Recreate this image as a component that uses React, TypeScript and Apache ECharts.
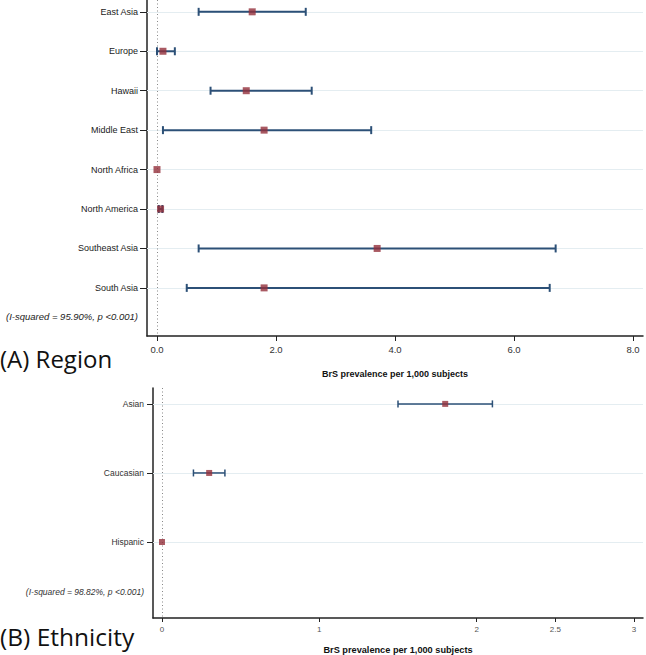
import React, { useEffect, useRef } from "react";
import * as echarts from "echarts";

const regions = ["East Asia", "Europe", "Hawaii", "Middle East", "North Africa", "North America", "Southeast Asia", "South Asia"];
const regionEst = [1.6, 0.1, 1.5, 1.8, 0.0, 0.06, 3.7, 1.8];
const regionLow = [0.7, 0.0, 0.9, 0.1, 0.0, 0.03, 0.7, 0.5];
const regionHigh = [2.5, 0.3, 2.6, 3.6, 0.0, 0.09, 6.7, 6.6];
const regionTicks = [0, 2, 4, 6, 8];

const ethnicities = ["Asian", "Caucasian", "Hispanic"];
const ethEst = [1.8, 0.3, 0.0];
const ethLow = [1.5, 0.2, 0.0];
const ethHigh = [2.1, 0.4, 0.0];
const ethTicks = [0, 1, 2, 2.5, 3];

const regionHet = "(I-squared = 95.90%, p <0.001)";
const ethHet = "(I-squared = 98.82%, p <0.001)";
const axisTitle = "BrS prevalence per 1,000 subjects";
const panelA = "(A) Region";
const panelB = "(B) Ethnicity";

const FONT = "'Liberation Sans', Arial, sans-serif";
const CI_COLOR = "#2c5077";
const PT_COLOR = "#93303b";
const AXIS_COLOR = "#222";

function ciSeries(xi: number, yi: number, low: number[], high: number[], lw: number, cap: number) {
  return {
    type: "custom",
    xAxisIndex: xi,
    yAxisIndex: yi,
    z: 3,
    silent: true,
    encode: { x: [1, 2], y: 0 },
    data: low.map((l, i) => [i, l, high[i]]),
    renderItem: (params: any, api: any) => {
      const row = api.value(0);
      const lo = api.value(1);
      const hi = api.value(2);
      if (hi - lo <= 0) return { type: "group", children: [] };
      const p1 = api.coord([lo, row]);
      const p2 = api.coord([hi, row]);
      const st = { stroke: CI_COLOR, lineWidth: lw };
      return {
        type: "group",
        children: [
          { type: "line", shape: { x1: p1[0], y1: p1[1], x2: p2[0], y2: p2[1] }, style: st },
          { type: "line", shape: { x1: p1[0], y1: p1[1] - cap, x2: p1[0], y2: p1[1] + cap }, style: st },
          { type: "line", shape: { x1: p2[0], y1: p2[1] - cap, x2: p2[0], y2: p2[1] + cap }, style: st },
        ],
      };
    },
  };
}

function pointSeries(xi: number, yi: number, est: number[], size: number, count: number) {
  return {
    type: "scatter",
    xAxisIndex: xi,
    yAxisIndex: yi,
    z: 4,
    silent: true,
    symbol: "rect",
    symbolSize: size,
    itemStyle: { color: PT_COLOR },
    data: est.map((v, i) => [v, i]),
    markLine: {
      silent: true,
      symbol: ["none", "none"],
      label: { show: false },
      z: 1,
      data: [
        ...Array.from({ length: count }, (_, i) => ({
          yAxis: i,
          lineStyle: { color: "#e4edf1", width: 1, type: "solid" },
        })),
        { xAxis: 0, lineStyle: { color: "#888", width: 1, type: [1, 2.5] } },
      ],
    },
  };
}

export default function App() {
  const ref = useRef<HTMLDivElement>(null);
  useEffect(() => {
    if (!ref.current) return;
    const chart = echarts.init(ref.current, undefined, { renderer: "svg" });
    const yAxisCommon = {
      type: "value",
      inverse: true,
      splitLine: { show: false },
      axisLine: { show: true, onZero: false, lineStyle: { color: AXIS_COLOR, width: 1.5 } },
    };
    chart.setOption({
      animation: false,
      backgroundColor: "#fff",
      grid: [
        { left: 147, top: 0, width: 496, height: 336 },
        { left: 153, top: 388, width: 490, height: 233 },
      ],
      xAxis: [
        {
          type: "value",
          gridIndex: 0,
          min: -0.168,
          max: 8.168,
          splitLine: { show: false },
          axisLine: { show: true, onZero: false, lineStyle: { color: AXIS_COLOR, width: 1.5 } },
          axisTick: { show: true, length: 5, customValues: regionTicks, lineStyle: { color: AXIS_COLOR } },
          axisLabel: {
            customValues: regionTicks,
            formatter: (v: number) => v.toFixed(1),
            fontFamily: FONT,
            fontSize: 9.5,
            color: "#333",
            margin: 8,
          },
          name: axisTitle,
          nameLocation: "middle",
          nameGap: 33,
          nameTextStyle: { fontFamily: FONT, fontSize: 9, fontWeight: "bold", color: "#111" },
        },
        {
          type: "value",
          gridIndex: 1,
          min: -0.057,
          max: 3.057,
          splitLine: { show: false },
          axisLine: { show: true, onZero: false, lineStyle: { color: AXIS_COLOR, width: 1.5 } },
          axisTick: { show: true, length: 4, customValues: ethTicks, lineStyle: { color: AXIS_COLOR } },
          axisLabel: {
            customValues: ethTicks,
            formatter: (v: number) => String(v),
            fontFamily: FONT,
            fontSize: 8,
            color: "#555",
            margin: 7,
          },
          name: axisTitle,
          nameLocation: "middle",
          nameGap: 27,
          nameTextStyle: { fontFamily: FONT, fontSize: 9.2, fontWeight: "bold", color: "#111" },
        },
      ],
      yAxis: [
        {
          ...yAxisCommon,
          gridIndex: 0,
          min: -0.3,
          max: 8.22,
          axisTick: { show: true, length: 7, customValues: regions.map((_, i) => i), lineStyle: { color: AXIS_COLOR } },
          axisLabel: {
            customValues: regions.map((_, i) => i),
            formatter: (v: number) => regions[Math.round(v)] ?? "",
            fontFamily: FONT,
            fontSize: 9,
            color: "#1a1a1a",
            margin: 9,
          },
        },
        {
          ...yAxisCommon,
          gridIndex: 1,
          min: -0.23,
          max: 3.1,
          axisTick: { show: true, length: 6, customValues: ethnicities.map((_, i) => i), lineStyle: { color: AXIS_COLOR } },
          axisLabel: {
            customValues: ethnicities.map((_, i) => i),
            formatter: (v: number) => ethnicities[Math.round(v)] ?? "",
            fontFamily: FONT,
            fontSize: 8.5,
            color: "#333",
            margin: 9,
          },
        },
      ],
      series: [
        ciSeries(0, 0, regionLow, regionHigh, 2, 4),
        pointSeries(0, 0, regionEst, 7, regions.length),
        ciSeries(1, 1, ethLow, ethHigh, 1.5, 3.5),
        pointSeries(1, 1, ethEst, 6, ethnicities.length),
      ],
      graphic: [
        {
          type: "text",
          right: 646 - 138,
          top: 311,
          style: { text: regionHet, font: `italic 9.5px ${FONT}`, fill: "#222" },
        },
        {
          type: "text",
          right: 646 - 144,
          top: 587,
          style: { text: ethHet, font: `italic 8.5px ${FONT}`, fill: "#333" },
        },
        {
          type: "text",
          left: 0,
          top: 346,
          style: { text: panelA, font: `24px 'Open Sans', sans-serif`, fill: "#111" },
        },
        {
          type: "text",
          left: 0,
          top: 624,
          style: { text: panelB, font: `24.5px 'Open Sans', sans-serif`, fill: "#111" },
        },
      ],
    });
    return () => chart.dispose();
  }, []);
  return (
    <div
      ref={ref}
      style={{ position: "fixed", left: 0, top: 0, width: 646, height: 655, background: "#fff" }}
    />
  );
}
